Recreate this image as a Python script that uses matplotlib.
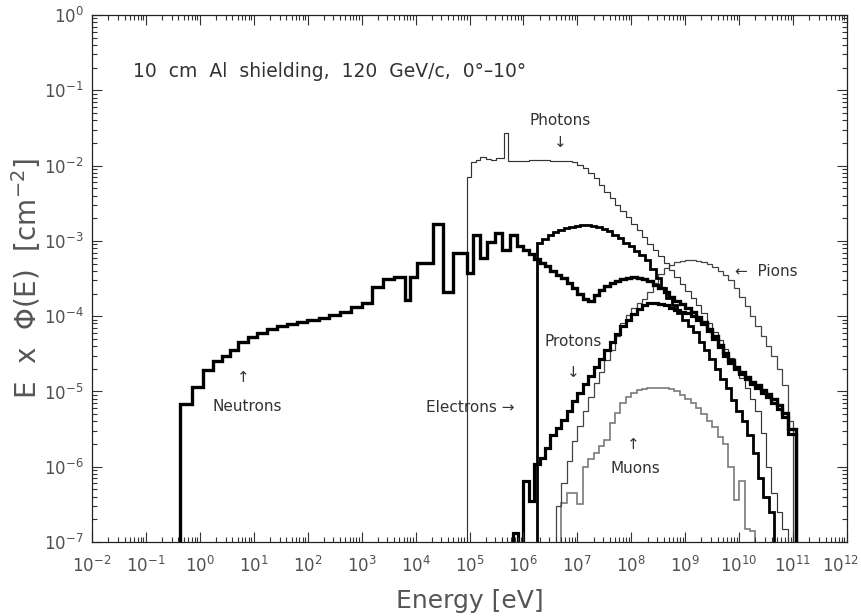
import numpy as np
import matplotlib
matplotlib.use("Agg")
import matplotlib.pyplot as plt
from matplotlib.ticker import LogLocator, NullFormatter
from matplotlib.transforms import ScaledTranslation

# ---------------------------------------------------------------------------
# Fluence spectra E x Phi(E) [cm^-2] behind 10 cm Al, 0-10 deg, 120 GeV/c beam
# Bin edges are given as log10(E / eV); values are per-bin fluences.
# ---------------------------------------------------------------------------

# Neutrons: coarse low-energy binning, then 0.1-decade bins above 1 MeV
neutron_log_edges_low = [-0.37, -0.15, 0.06, 0.24, 0.41, 0.56, 0.71, 0.89, 1.06,
                         1.25, 1.43, 1.62, 1.80, 1.99, 2.2, 2.4, 2.6, 2.8, 3.0,
                         3.2, 3.4, 3.6, 3.8, 3.9, 4.03, 4.32, 4.51, 4.69, 4.95,
                         5.06, 5.19, 5.32, 5.47, 5.60, 5.75, 5.88]
neutron_log_edges_high = list(np.round(np.arange(6.0, 10.95, 0.1), 2)) + [11.05]
neutron_values = [6.8e-6, 1.15e-5, 1.9e-5, 2.5e-5, 3.0e-5, 3.5e-5, 4.6e-5, 5.3e-5,
                  6.0e-5, 6.7e-5, 7.3e-5, 7.8e-5, 8.3e-5, 8.8e-5, 9.6e-5, 1.04e-4,
                  1.12e-4, 1.32e-4, 1.5e-4, 2.45e-4, 3.1e-4, 3.3e-4, 1.65e-4,
                  3.3e-4, 5.1e-4, 1.66e-3, 2.1e-4, 7.0e-4, 3.7e-4, 1.2e-3, 5.9e-4,
                  9.8e-4, 1.26e-3, 7.5e-4, 1.2e-3, 8.6e-4,
                  # 1 MeV and above
                  7.6e-4, 6.6e-4, 5.8e-4, 5.1e-4, 4.6e-4, 4.0e-4, 3.5e-4, 3.2e-4,
                  2.75e-4, 2.35e-4, 2.0e-4, 1.7e-4, 1.6e-4, 1.9e-4, 2.2e-4, 2.5e-4,
                  2.75e-4, 2.95e-4, 3.15e-4, 3.25e-4, 3.3e-4, 3.25e-4, 3.1e-4,
                  2.95e-4, 2.6e-4, 2.35e-4, 2.1e-4, 1.8e-4, 1.6e-4, 1.45e-4,
                  1.3e-4, 1.15e-4, 9.8e-5, 8.3e-5, 6.8e-5, 5.4e-5, 4.2e-5, 3.2e-5,
                  2.6e-5, 2.1e-5, 1.8e-5, 1.55e-5, 1.35e-5, 1.2e-5, 1.05e-5,
                  9.3e-6, 8.0e-6, 6.6e-6, 5.2e-6, 3.2e-6]

# Photons
photon_log_edges = [4.95, 5.03, 5.12, 5.2, 5.3, 5.4, 5.5, 5.64, 5.71] + \
    list(np.round(np.arange(5.8, 10.85, 0.1), 2)) + [10.9]
photon_values = [7.0e-3, 1.1e-2, 1.2e-2, 1.3e-2, 1.22e-2, 1.18e-2, 1.25e-2, 2.7e-2,
                 1.15e-2,
                 1.15e-2, 1.16e-2, 1.16e-2, 1.17e-2, 1.17e-2, 1.17e-2, 1.17e-2,
                 1.16e-2, 1.16e-2, 1.15e-2, 1.14e-2, 1.1e-2, 1.02e-2, 9.2e-3,
                 8.0e-3, 6.8e-3, 5.5e-3, 4.5e-3, 3.7e-3, 3.0e-3, 2.5e-3, 2.05e-3,
                 1.7e-3, 1.4e-3, 1.12e-3, 9.2e-4, 7.6e-4, 6.3e-4, 5.1e-4, 4.1e-4,
                 3.3e-4, 2.7e-4, 2.15e-4, 1.75e-4, 1.4e-4, 1.1e-4, 8.2e-5, 6.2e-5,
                 4.8e-5, 3.7e-5, 2.8e-5, 2.1e-5, 1.5e-5, 1.1e-5, 8.0e-6, 5.5e-6,
                 2.8e-6, 1.0e-6, 4.5e-7, 2.5e-7, 1.5e-7]

# Electrons
electron_log_edges = list(np.round(np.arange(6.25, 10.6, 0.1), 2)) + [10.65]
electron_values = [9.3e-4, 1.07e-3, 1.2e-3, 1.32e-3, 1.41e-3, 1.48e-3, 1.55e-3,
                   1.58e-3, 1.62e-3, 1.62e-3, 1.58e-3, 1.51e-3, 1.45e-3, 1.35e-3,
                   1.2e-3, 1.1e-3, 9.5e-4, 8.5e-4, 7.4e-4, 6.5e-4, 5.5e-4, 4.2e-4,
                   3.2e-4, 2.4e-4, 1.75e-4, 1.4e-4, 1.1e-4, 9.0e-5, 7.5e-5, 6.2e-5,
                   4.6e-5, 3.5e-5, 2.7e-5, 2.0e-5, 1.45e-5, 1.1e-5, 7.8e-6, 5.5e-6,
                   4.0e-6, 2.6e-6, 1.5e-6, 7.0e-7, 4.0e-7, 2.5e-7]

# Protons
proton_log_edges = list(np.round(np.arange(5.7, 10.95, 0.1), 2)) + [11.05]
proton_values = [1e-9, 1.3e-7, 1e-9, 6.5e-7, 3.5e-7, 1.1e-6, 1.3e-6, 1.8e-6, 2.6e-6,
                 3.3e-6, 4.2e-6, 5.5e-6, 7.5e-6, 9.5e-6, 1.25e-5, 1.6e-5, 2.1e-5,
                 2.7e-5, 3.5e-5, 4.5e-5, 5.8e-5, 7.3e-5, 9.0e-5, 1.08e-4, 1.25e-4,
                 1.42e-4, 1.5e-4, 1.5e-4, 1.45e-4, 1.4e-4, 1.3e-4, 1.22e-4,
                 1.15e-4, 1.1e-4, 1.02e-4, 9.0e-5, 7.8e-5, 6.3e-5, 5.0e-5, 3.9e-5,
                 3.0e-5, 2.4e-5, 2.0e-5, 1.7e-5, 1.45e-5, 1.25e-5, 1.1e-5, 9.5e-6,
                 8.5e-6, 7.0e-6, 5.8e-6, 4.6e-6, 2.7e-6]

# Charged pions
pion_log_edges = list(np.round(np.arange(6.6, 10.95, 0.1), 2)) + [11.0]
pion_values = [3e-7, 6e-7, 1.2e-6, 2.2e-6, 3.5e-6, 5.5e-6, 8.5e-6, 1.3e-5, 1.8e-5,
               2.6e-5, 3.6e-5, 5.5e-5, 8.0e-5, 1.05e-4, 1.3e-4, 1.5e-4, 1.7e-4,
               2.1e-4, 2.8e-4, 3.6e-4, 4.3e-4, 4.8e-4, 5.2e-4, 5.4e-4, 5.5e-4,
               5.5e-4, 5.4e-4, 5.2e-4, 4.9e-4, 4.5e-4, 4.0e-4, 3.5e-4, 3.0e-4,
               2.4e-4, 1.8e-4, 1.35e-4, 1.0e-4, 7.5e-5, 5.5e-5, 4.0e-5, 3.0e-5,
               2.0e-5, 1.2e-5, 4e-6]

# Muons
muon_log_edges = list(np.round(np.arange(6.7, 10.25, 0.1), 2)) + [10.3]
muon_values = [3.3e-7, 4.5e-7, 4.5e-7, 3.2e-7, 1.0e-6, 1.25e-6, 1.5e-6, 1.9e-6,
               2.3e-6, 3.8e-6, 5.1e-6, 7.0e-6, 8.5e-6, 9.5e-6, 1.05e-5, 1.08e-5,
               1.1e-5, 1.12e-5, 1.12e-5, 1.1e-5, 1.08e-5, 1.0e-5, 9.0e-6, 8.0e-6,
               7.0e-6, 6.0e-6, 5.0e-6, 4.0e-6, 3.4e-6, 2.5e-6, 2.0e-6, 1.0e-6,
               3.6e-7, 6.5e-7, 1.5e-7, 1.4e-7]

x_tick_exponents = list(range(-2, 13))
y_tick_exponents = list(range(-7, 1))

# ---------------------------------------------------------------------------
fig = plt.figure(figsize=(8.61, 6.16), dpi=100)
ax = fig.add_axes([0.1069, 0.1201, 0.8768, 0.8555])
ax.set_xscale("log")
ax.set_yscale("log")
ax.set_xlim(1e-2, 1e12)
ax.set_ylim(1e-7, 1e0)

BASE = 1e-10


def draw(log_edges, values, **kw):
    edges = np.power(10.0, np.asarray(log_edges, dtype=float))
    ax.stairs(values, edges, baseline=BASE, fill=False, **kw)


draw(muon_log_edges, muon_values, color="#7a7a7a", lw=1.2)
draw(pion_log_edges, pion_values, color="#444444", lw=0.9)
draw(photon_log_edges, photon_values, color="#333333", lw=0.85)
draw(proton_log_edges, proton_values, color="black", lw=2.3)
draw(electron_log_edges, electron_values, color="black", lw=2.0)
draw(neutron_log_edges_low + neutron_log_edges_high, neutron_values,
     color="black", lw=2.4)

# axes styling
for s in ax.spines.values():
    s.set_linewidth(0.9)
    s.set_color("#222222")
ax.xaxis.set_minor_locator(LogLocator(base=10, subs=np.arange(2, 10), numticks=30))
ax.yaxis.set_minor_locator(LogLocator(base=10, subs=np.arange(2, 10), numticks=30))
ax.xaxis.set_minor_formatter(NullFormatter())
ax.yaxis.set_minor_formatter(NullFormatter())
ax.set_xticks([10.0 ** e for e in x_tick_exponents])
ax.set_yticks([10.0 ** e for e in y_tick_exponents])
ax.tick_params(which="both", direction="in", top=True, right=True,
               color="#333333", width=0.8)
ax.tick_params(which="major", length=7, labelsize=12, labelcolor="#505050")
ax.tick_params(which="minor", length=3.5)
ax.tick_params(axis="x", which="major", pad=10)
ax.tick_params(axis="y", which="major", pad=6)

# keep the rightmost energy label inside the canvas
fig.canvas.draw()
last = ax.xaxis.get_major_ticks()[-1].label1
last.set_transform(last.get_transform() + ScaledTranslation(-5 / 72, 0, fig.dpi_scale_trans))

ax.set_xlabel("Energy [eV]", fontsize=18, color="#555555", labelpad=9)
ax.set_ylabel("E  x  \u03a6(E)  [cm$^{-2}$]", fontsize=20, color="#555555",
              labelpad=1)

# annotations
tc = "#333333"
ax.text(0.054, 0.893, "10  cm  Al  shielding,  120  GeV/c,  0\u00b0\u201310\u00b0",
        transform=ax.transAxes, fontsize=13.5, color=tc, ha="left", va="center")
lab = dict(fontsize=11, color=tc, ha="center", va="center")
ax.text(4.8e6, 4.0e-2, "Photons", **lab)
ax.text(4.8e6, 2.0e-2, "\u2193", **lab)
ax.text(8.3e9, 3.9e-4, "\u2190  Pions", fontsize=11, color=tc, ha="left", va="center")
ax.text(8.3e6, 4.6e-5, "Protons", **lab)
ax.text(8.3e6, 1.8e-5, "\u2193", **lab)
ax.text(6.3e0, 1.55e-5, "\u2191", **lab)
ax.text(7.4e0, 6.4e-6, "Neutrons", **lab)
ax.text(6.9e5, 6.2e-6, "Electrons \u2192", fontsize=11, color=tc, ha="right", va="center")
ax.text(1.1e8, 1.95e-6, "\u2191", **lab)
ax.text(1.2e8, 9.6e-7, "Muons", **lab)

fig.savefig("out.png", dpi=100)
